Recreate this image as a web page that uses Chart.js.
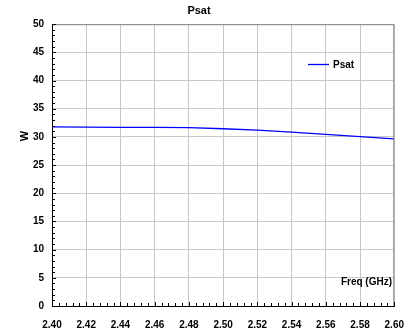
<!DOCTYPE html>
<html>
<head>
<meta charset="utf-8">
<script src="https://cdn.jsdelivr.net/npm/chart.js@4/dist/chart.umd.min.js"></script>
<style>
  html, body { margin: 0; padding: 0; background: #fff; }
  #wrap { width: 417px; height: 333px; }
</style>
</head>
<body>
<div id="wrap"><canvas id="myChart" width="417" height="333"></canvas></div>
<script>
// values
const freqs = [2.40, 2.42, 2.44, 2.46, 2.48, 2.50, 2.52, 2.54, 2.56, 2.58, 2.60];
const psat = [31.8, 31.75, 31.7, 31.7, 31.65, 31.45, 31.2, 30.85, 30.45, 30.05, 29.65];
const seriesName = 'Psat';
const chartTitle = 'Psat';
const yTitle = 'W';
const xTitle = 'Freq (GHz)';

const FONT = 'Arial, "Liberation Sans", sans-serif';

// frame, minor ticks, in-plot legend and axis captions
const extras = {
  id: 'extras',
  afterDraw(chart) {
    const { ctx, chartArea: a, scales } = chart;
    const xs = scales.x, ys = scales.y;
    ctx.save();
    // grey frame on top and right
    ctx.strokeStyle = '#808080';
    ctx.lineWidth = 1;
    ctx.beginPath();
    ctx.moveTo(a.left, a.top + 0.5);
    ctx.lineTo(a.right - 0.5, a.top + 0.5);
    ctx.lineTo(a.right - 0.5, a.bottom);
    ctx.stroke();

    // inward ticks
    ctx.strokeStyle = '#000';
    ctx.beginPath();
    for (let v = 0; v <= 50; v += 1) {
      const y = Math.round(ys.getPixelForValue(v)) + 0.5;
      const len = v % 5 === 0 ? 4 : 3;
      ctx.moveTo(a.left, y);
      ctx.lineTo(a.left + len, y);
    }
    for (let i = 0; i <= 50; i++) {
      const v = 2.40 + i * 0.004;
      const x = Math.round(xs.getPixelForValue(v)) + 0.5;
      const len = i % 5 === 0 ? 4 : 3;
      ctx.moveTo(x, a.bottom);
      ctx.lineTo(x, a.bottom - len);
    }
    ctx.stroke();

    // legend inside the plot
    const ds = chart.data.datasets[0];
    ctx.strokeStyle = ds.borderColor;
    ctx.lineWidth = 1.3;
    ctx.beginPath();
    ctx.moveTo(308, 64.5);
    ctx.lineTo(329, 64.5);
    ctx.stroke();
    ctx.fillStyle = '#000';
    ctx.font = 'bold 10px ' + FONT;
    ctx.textBaseline = 'middle';
    ctx.textAlign = 'left';
    ctx.fillText(ds.label, 333, 65);

    // x caption inside plot
    ctx.textAlign = 'right';
    ctx.fillText(xTitle, 392, 282);

    // y caption
    ctx.font = 'bold 11px ' + FONT;
    ctx.translate(25, 136);
    ctx.rotate(-Math.PI / 2);
    ctx.textAlign = 'center';
    ctx.fillText(yTitle, 0, 0);
    ctx.restore();
  }
};

new Chart(document.getElementById('myChart').getContext('2d'), {
  type: 'line',
  data: {
    labels: freqs,
    datasets: [{
      label: seriesName,
      data: freqs.map((f, i) => ({ x: f, y: psat[i] })),
      borderColor: '#0000ff',
      borderWidth: 1.3,
      pointRadius: 0,
      tension: 0,
      fill: false
    }]
  },
  options: {
    responsive: false,
    animation: false,
    layout: { padding: { left: 0, right: 19, top: 0, bottom: 0 } },
    plugins: {
      legend: { display: false },
      tooltip: { enabled: false },
      title: {
        display: true,
        text: chartTitle,
        color: '#000',
        font: { family: FONT, size: 11, weight: 'bold' },
        padding: { top: 4, bottom: 7 }
      }
    },
    scales: {
      x: {
        type: 'linear',
        min: 2.40,
        max: 2.60,
        afterFit: s => { s.height = 27; },
        ticks: {
          stepSize: 0.02,
          color: '#000',
          padding: 13,
          maxRotation: 0,
          font: { family: FONT, size: 10, weight: 'bold' },
          callback: v => Number(v).toFixed(2)
        },
        grid: { color: '#c8c8c8', drawTicks: false },
        border: { color: '#000', width: 1 }
      },
      y: {
        min: 0,
        max: 50,
        afterFit: s => { s.width = 52; },
        ticks: {
          stepSize: 5,
          color: '#000',
          padding: 8,
          font: { family: FONT, size: 10, weight: 'bold' }
        },
        grid: { color: '#c8c8c8', drawTicks: false },
        border: { color: '#000', width: 1 }
      }
    }
  },
  plugins: [extras]
});
</script>
</body>
</html>
